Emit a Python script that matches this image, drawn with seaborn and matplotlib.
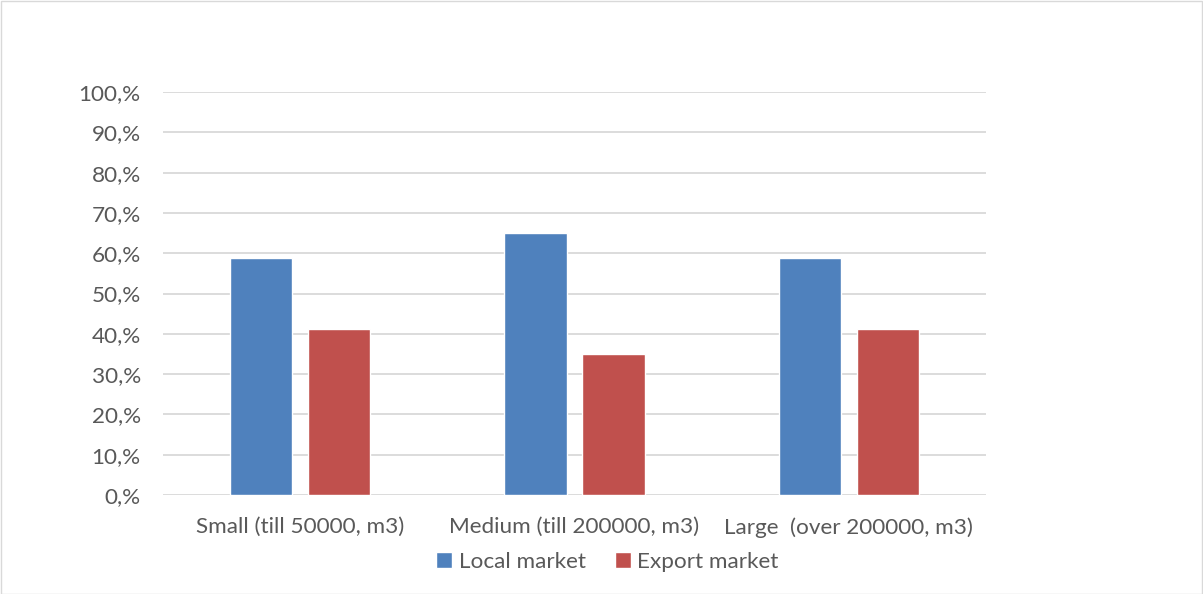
import matplotlib
matplotlib.use("Agg")
import matplotlib.pyplot as plt
import seaborn as sns
import pandas as pd
from matplotlib.patches import Rectangle
from matplotlib.ticker import FuncFormatter

categories = ["Small (till 50000, m3)", "Medium (till 200000, m3)", "Large  (over 200000, m3)"]
series = ["Local market", "Export market"]
local_values = [58.7, 65.0, 58.9]
export_values = [41.3, 35.0, 41.1]
yticks = [0, 10, 20, 30, 40, 50, 60, 70, 80, 90, 100]

df = pd.DataFrame({
    "category": categories * 2,
    "series": [series[0]] * 3 + [series[1]] * 3,
    "value": local_values + export_values,
})

sns.set_theme(style="white")
plt.rcParams["font.family"] = ["Lato", "DejaVu Sans"]
text_color = "#595959"
fs = 16.2

fig = plt.figure(figsize=(12.03, 5.94), dpi=100)
ax = fig.add_axes([163 / 1203, 1 - 495 / 594, (986 - 163) / 1203, (495 - 92) / 594])

palette = {"Local market": "#4F81BD", "Export market": "#C0504D"}
sns.barplot(data=df, x="category", y="value", hue="series", hue_order=series,
            order=categories, palette=palette, width=0.568, gap=0.2,
            saturation=1, ax=ax, legend=True, zorder=3)

ax.set_ylim(0, 100)
ax.set_xlim(-0.5, 2.5)
ax.set_yticks(yticks)
ax.yaxis.set_major_formatter(FuncFormatter(lambda v, p: f"{int(v)},%"))
ax.grid(axis="y", color="#d9d9d9", linewidth=1.3, zorder=0)
ax.set_axisbelow(True)
for s in ax.spines.values():
    s.set_visible(False)
ax.tick_params(axis="both", length=0, colors=text_color, labelsize=fs)
ax.tick_params(axis="y", pad=16)
ax.tick_params(axis="x", pad=16)
ax.set_xlabel("")
ax.set_ylabel("")

leg = ax.legend(loc="upper center", bbox_to_anchor=(0.54, -0.09), ncol=2, frameon=False,
                handlelength=0.7, handleheight=0.7, handletextpad=0.3, columnspacing=1.3,
                fontsize=fs)
for t in leg.get_texts():
    t.set_color(text_color)

fig.patches.append(Rectangle((0.5 / 1203, 0.5 / 594), 1 - 1.5 / 1203, 1 - 1.5 / 594,
                             transform=fig.transFigure, fill=False,
                             edgecolor="#d9d9d9", linewidth=1))

fig.savefig("out.png", dpi=100)
